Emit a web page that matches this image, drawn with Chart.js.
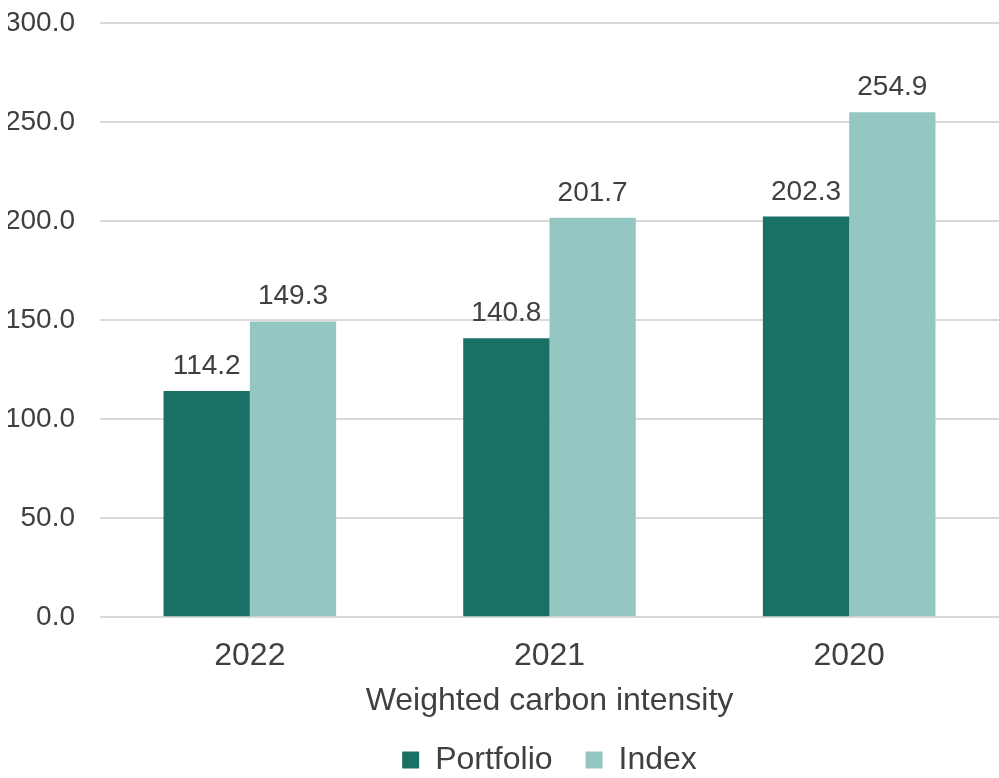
<!DOCTYPE html>
<html>
<head>
<meta charset="utf-8">
<script src="https://cdn.jsdelivr.net/npm/chart.js@4"></script>
<style>
  html, body { margin: 0; padding: 0; background: #fff; }
  #wrap { width: 999px; height: 778px; }
</style>
</head>
<body>
<div id="wrap"><canvas id="carbonChart"></canvas></div>
<script>
// --- Data ---
const years = ['2022', '2021', '2020'];
const portfolioValues = [114.2, 140.8, 202.3];
const indexValues = [149.3, 201.7, 254.9];
const yTicks = [0, 50, 100, 150, 200, 250, 300];

const textColor = '#404040';
const fontFamily = '"Liberation Sans", Arial, sans-serif';

// draws the value above each bar
const valueLabels = {
    id: 'valueLabels',
    afterDatasetsDraw(chart) {
        const ctx = chart.ctx;
        ctx.save();
        ctx.font = '28px ' + fontFamily;
        ctx.fillStyle = textColor;
        ctx.textAlign = 'center';
        ctx.textBaseline = 'alphabetic';
        chart.data.datasets.forEach((ds, i) => {
            chart.getDatasetMeta(i).data.forEach((bar, j) => {
                ctx.fillText(ds.data[j].toFixed(1), bar.x, bar.y - 17);
            });
        });
        ctx.restore();
    }
};

new Chart(document.getElementById('carbonChart').getContext('2d'), {
    type: 'bar',
    data: {
        labels: years,
        datasets: [
            { label: 'Portfolio', data: portfolioValues, backgroundColor: '#197065' },
            { label: 'Index', data: indexValues, backgroundColor: '#95C7C2' }
        ]
    },
    options: {
        responsive: true,
        maintainAspectRatio: false,
        animation: false,
        layout: { padding: { left: 8, right: 0, top: 23, bottom: -8 } },
        datasets: { bar: { categoryPercentage: 0.576, barPercentage: 1 } },
        scales: {
            x: {
                grid: { display: false },
                border: { display: false },
                ticks: { color: textColor, font: { family: fontFamily, size: 32 }, padding: 12 },
                title: {
                    display: true,
                    text: 'Weighted carbon intensity',
                    color: textColor,
                    font: { family: fontFamily, size: 32 },
                    padding: { top: -6, bottom: -9 }
                }
            },
            y: {
                min: 0,
                max: 300,
                afterBuildTicks: axis => { axis.ticks = yTicks.map(v => ({ value: v })); },
                afterFit: axis => {
                    axis.width = 92;
                    axis.paddingTop = 0;
                    axis.paddingBottom = 0;
                },
                grid: { color: '#d9d9d9', lineWidth: 2, drawTicks: false },
                border: { display: false },
                ticks: {
                    color: textColor,
                    font: { family: fontFamily, size: 28 },
                    padding: 25,
                    callback: v => v.toFixed(1)
                }
            }
        },
        plugins: {
            legend: {
                position: 'bottom',
                fullSize: false,
                labels: {
                    color: textColor,
                    font: { family: fontFamily, size: 32 },
                    boxWidth: 17,
                    boxHeight: 17,
                    padding: 33
                }
            },
            tooltip: { enabled: false }
        }
    },
    plugins: [valueLabels]
});
</script>
</body>
</html>
